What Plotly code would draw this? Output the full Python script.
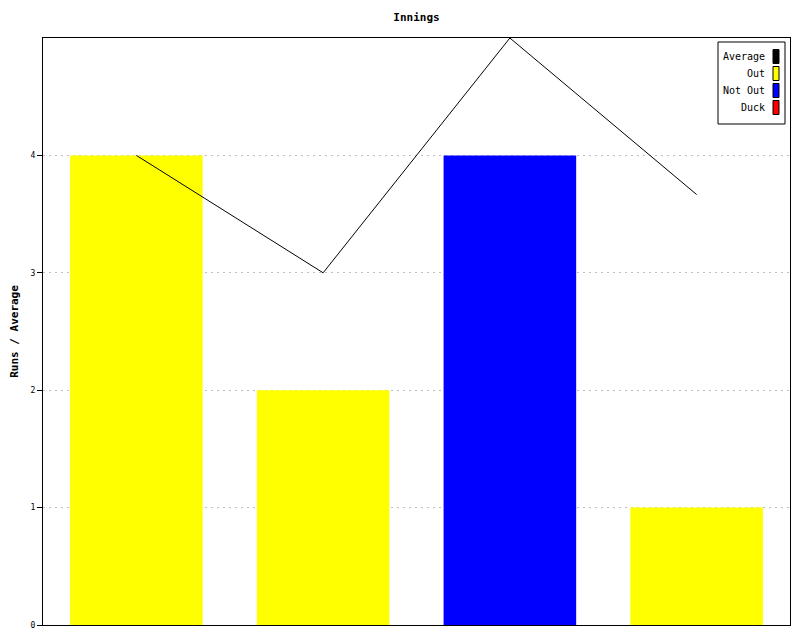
import plotly.graph_objects as go

innings = ["1", "2", "3", "4"]
runs = [4, 2, 4, 1]
status = ["Out", "Out", "Not Out", "Out"]
average = [4, 3, 5, 11 / 3]
y_ticks = [0, 1, 2, 3, 4]
legend_labels = ["Average", "Out", "Not Out", "Duck"]

status_colors = {"Out": "#ffff00", "Not Out": "#0000ff", "Duck": "#ff0000"}
legend_colors = {"Average": "#000000", "Out": "#ffff00", "Not Out": "#0000ff", "Duck": "#ff0000"}

font = "DejaVu Sans Mono, monospace"

OFF = 8  # body margin of the page
W, H = 784, 624
ml, mt = 43 - OFF, 38 - OFF
mr = W - (790 - OFF)
mb = H - (625 - OFF)
pw, ph = W - ml - mr, H - mt - mb

fig = go.Figure()
fig.add_trace(go.Bar(
    x=innings, y=runs, width=0.71,
    marker=dict(color=[status_colors[s] for s in status], line=dict(width=0)),
    showlegend=False, hoverinfo="skip",
))
fig.add_trace(go.Scatter(
    x=innings, y=average, mode="lines",
    line=dict(color="black", width=1), showlegend=False, hoverinfo="skip",
))


def px_to_paper(x, y):
    x -= OFF
    y -= OFF
    return (x - ml) / pw, 1 - (y - mt) / ph


shapes = []
annotations = []
bx0, by0 = px_to_paper(718, 42)
bx1, by1 = px_to_paper(785, 124)
shapes.append(dict(type="rect", xref="paper", yref="paper", x0=bx0, y0=by0, x1=bx1, y1=by1,
                   line=dict(color="black", width=1), fillcolor="white"))
for i, lab in enumerate(legend_labels):
    cy = 56.5 + i * 17
    tx, ty = px_to_paper(767, cy)
    annotations.append(dict(xref="paper", yref="paper", x=tx, y=ty, text=lab, showarrow=False,
                            xanchor="right", yanchor="middle",
                            font=dict(family=font, size=10, color="black")))
    rx0, ry0 = px_to_paper(773, cy - 7)
    rx1, ry1 = px_to_paper(779, cy + 7)
    shapes.append(dict(type="rect", xref="paper", yref="paper", x0=rx0, y0=ry0, x1=rx1, y1=ry1,
                       line=dict(color="black", width=1), fillcolor=legend_colors[lab]))

fig.update_layout(
    width=W, height=H,
    margin=dict(l=ml, r=mr, t=mt, b=mb, pad=0),
    paper_bgcolor="white", plot_bgcolor="white",
    title=dict(text="<b>Innings</b>", x=0.5, xref="paper", y=1 - (17 - OFF) / H, yanchor="middle",
               font=dict(family=font, size=11, color="black")),
    xaxis=dict(showticklabels=False, ticks="", showgrid=False, showline=True, linecolor="black",
               linewidth=1, mirror=True, range=[-0.5, 3.5], fixedrange=True),
    yaxis=dict(range=[0, 5], tickvals=y_ticks, ticks="outside", ticklen=5, tickcolor="black",
               showline=True, linecolor="black", linewidth=1, mirror=True,
               showgrid=True, gridcolor="#c0c0c0", griddash="2px,4px", gridwidth=1,
               zeroline=False,
               tickfont=dict(family=font, size=8, color="black"),
               title=dict(text="<b>Runs / Average</b>", standoff=12,
                          font=dict(family=font, size=11, color="black"))),
    shapes=shapes, annotations=annotations,
    bargap=0.29,
)

fig.write_html("out.html")
